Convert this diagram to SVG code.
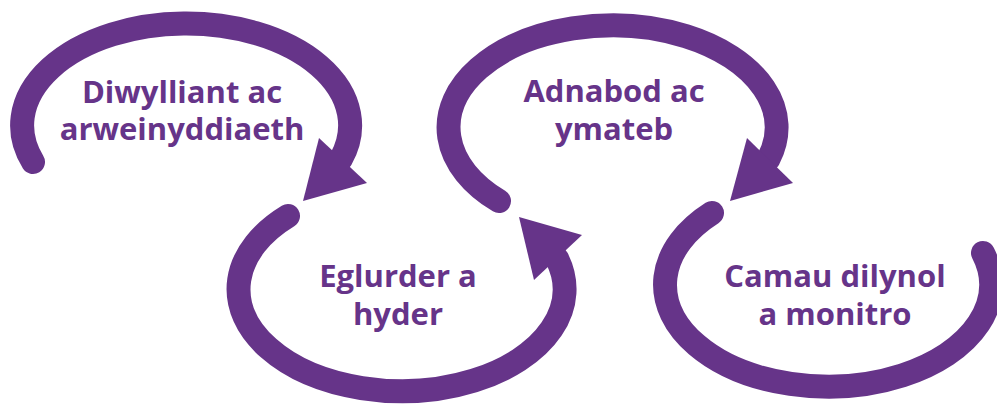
<svg xmlns="http://www.w3.org/2000/svg" width="997" height="405" viewBox="0 0 997 405">
  <style>
    .loop { fill: none; stroke: #663489; stroke-width: 24; stroke-linecap: round; stroke-linejoin: round; }
    .head { fill: #663489; stroke: none; }
    .label { font-family: "Open Sans", "Noto Sans", "Liberation Sans", sans-serif; font-weight: 700; font-size: 31px; fill: #663489; text-anchor: middle; }
  </style>
  <rect width="997" height="405" fill="#ffffff"/>
  <g id="connectors">
    <path class="loop" d="M 33 162 A 164 102 0 1 1 341 159 l -5.6 5.8"/>
    <polygon class="head" points="319,138 367,183 303,201"/>
    <path class="loop" d="M 288 216 A 163 102 0 1 0 557 258.5 l -5.6 -5.8"/>
    <polygon class="head" points="582,235 534,280 519,217"/>
    <path class="loop" d="M 499 201 A 164 102 0 1 1 768.5 159 l -5.6 5.8"/>
    <polygon class="head" points="747,138 793,183 730,201"/>
    <path class="loop" d="M 712 213 A 163 102 0 1 0 983 253"/>
  </g>
  <g id="node-diwylliant">
    <text class="label" x="182" y="103">Diwylliant ac</text>
    <text class="label" x="182" y="140">arweinyddiaeth</text>
  </g>
  <g id="node-eglurder">
    <text class="label" x="398" y="287">Eglurder a</text>
    <text class="label" x="398" y="325">hyder</text>
  </g>
  <g id="node-adnabod">
    <text class="label" x="614" y="102">Adnabod ac</text>
    <text class="label" x="614" y="140">ymateb</text>
  </g>
  <g id="node-camau">
    <text class="label" x="835" y="287">Camau dilynol</text>
    <text class="label" x="835" y="325">a monitro</text>
  </g>
</svg>
